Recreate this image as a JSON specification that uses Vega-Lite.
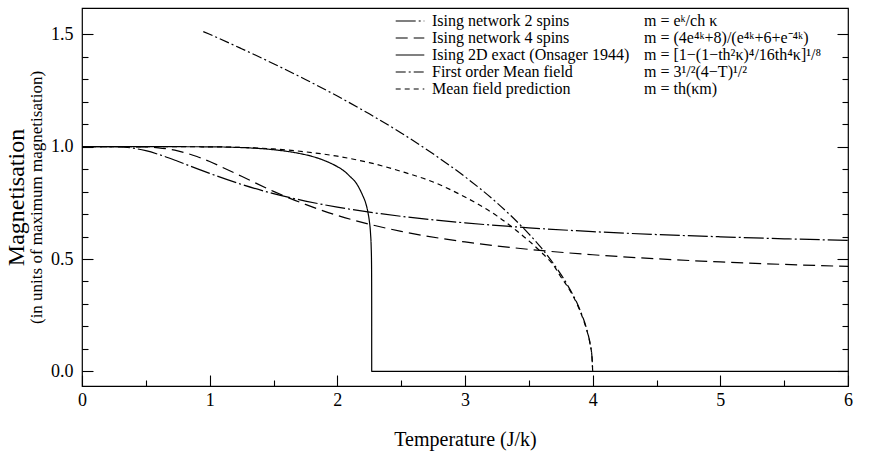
{
  "$schema": "https://vega.github.io/schema/vega-lite/v6.json",
  "width": 766,
  "height": 378,
  "autosize": {"type": "none"},
  "padding": {"left": 82, "top": 8, "right": 38, "bottom": 73},
  "background": "white",
  "config": {
    "font": "Liberation Serif",
    "view": {"stroke": "black", "strokeWidth": 1.2},
    "axis": {
      "grid": false,
      "domain": false,
      "ticks": true,
      "labelFont": "Liberation Serif",
      "titleFont": "Liberation Serif",
      "labelFontSize": 18,
      "labelColor": "black",
      "titleColor": "black",
      "titleFontWeight": "normal",
      "tickColor": "black",
      "tickWidth": 1.1,
      "tickOpacity": 1,
      "labelFlush": false
    },
    "legend": {
      "labelFont": "Liberation Serif",
      "labelFontSize": 16,
      "labelColor": "black",
      "padding": 0,
      "rowPadding": 1,
      "labelLimit": 400
    }
  },
  "datasets": {
    "curves": [
      {"series": "Ising network 2 spins", "T": 0, "m": 1},
      {"series": "Ising network 2 spins", "T": 0.25, "m": 0.9997},
      {"series": "Ising network 2 spins", "T": 0.4, "m": 0.9933},
      {"series": "Ising network 2 spins", "T": 0.5, "m": 0.982},
      {"series": "Ising network 2 spins", "T": 0.6, "m": 0.9655},
      {"series": "Ising network 2 spins", "T": 0.75, "m": 0.935},
      {"series": "Ising network 2 spins", "T": 0.9, "m": 0.902},
      {"series": "Ising network 2 spins", "T": 1, "m": 0.881},
      {"series": "Ising network 2 spins", "T": 1.25, "m": 0.832},
      {"series": "Ising network 2 spins", "T": 1.5, "m": 0.791},
      {"series": "Ising network 2 spins", "T": 1.75, "m": 0.758},
      {"series": "Ising network 2 spins", "T": 2, "m": 0.731},
      {"series": "Ising network 2 spins", "T": 2.5, "m": 0.69},
      {"series": "Ising network 2 spins", "T": 3, "m": 0.661},
      {"series": "Ising network 2 spins", "T": 3.5, "m": 0.639},
      {"series": "Ising network 2 spins", "T": 4, "m": 0.622},
      {"series": "Ising network 2 spins", "T": 4.5, "m": 0.609},
      {"series": "Ising network 2 spins", "T": 5, "m": 0.599},
      {"series": "Ising network 2 spins", "T": 5.5, "m": 0.59},
      {"series": "Ising network 2 spins", "T": 6, "m": 0.583},
      {"series": "Ising network 4 spins", "T": 0, "m": 1},
      {"series": "Ising network 4 spins", "T": 0.25, "m": 1},
      {"series": "Ising network 4 spins", "T": 0.5, "m": 0.9987},
      {"series": "Ising network 4 spins", "T": 0.6, "m": 0.995},
      {"series": "Ising network 4 spins", "T": 0.75, "m": 0.981},
      {"series": "Ising network 4 spins", "T": 0.9, "m": 0.956},
      {"series": "Ising network 4 spins", "T": 1, "m": 0.934},
      {"series": "Ising network 4 spins", "T": 1.1, "m": 0.908},
      {"series": "Ising network 4 spins", "T": 1.25, "m": 0.868},
      {"series": "Ising network 4 spins", "T": 1.5, "m": 0.801},
      {"series": "Ising network 4 spins", "T": 1.75, "m": 0.743},
      {"series": "Ising network 4 spins", "T": 2, "m": 0.694},
      {"series": "Ising network 4 spins", "T": 2.25, "m": 0.655},
      {"series": "Ising network 4 spins", "T": 2.5, "m": 0.623},
      {"series": "Ising network 4 spins", "T": 3, "m": 0.576},
      {"series": "Ising network 4 spins", "T": 3.5, "m": 0.543},
      {"series": "Ising network 4 spins", "T": 4, "m": 0.519},
      {"series": "Ising network 4 spins", "T": 4.5, "m": 0.501},
      {"series": "Ising network 4 spins", "T": 5, "m": 0.487},
      {"series": "Ising network 4 spins", "T": 5.5, "m": 0.476},
      {"series": "Ising network 4 spins", "T": 6, "m": 0.467},
      {"series": "Ising 2D exact (Onsager 1944)", "T": 0, "m": 1},
      {"series": "Ising 2D exact (Onsager 1944)", "T": 0.5, "m": 1},
      {"series": "Ising 2D exact (Onsager 1944)", "T": 1, "m": 0.9993},
      {"series": "Ising 2D exact (Onsager 1944)", "T": 1.2, "m": 0.997},
      {"series": "Ising 2D exact (Onsager 1944)", "T": 1.4, "m": 0.9914},
      {"series": "Ising 2D exact (Onsager 1944)", "T": 1.5, "m": 0.9864},
      {"series": "Ising 2D exact (Onsager 1944)", "T": 1.6, "m": 0.9796},
      {"series": "Ising 2D exact (Onsager 1944)", "T": 1.7, "m": 0.97},
      {"series": "Ising 2D exact (Onsager 1944)", "T": 1.8, "m": 0.957},
      {"series": "Ising 2D exact (Onsager 1944)", "T": 1.9, "m": 0.938},
      {"series": "Ising 2D exact (Onsager 1944)", "T": 2, "m": 0.911},
      {"series": "Ising 2D exact (Onsager 1944)", "T": 2.05, "m": 0.893},
      {"series": "Ising 2D exact (Onsager 1944)", "T": 2.1, "m": 0.867},
      {"series": "Ising 2D exact (Onsager 1944)", "T": 2.15, "m": 0.836},
      {"series": "Ising 2D exact (Onsager 1944)", "T": 2.2, "m": 0.781},
      {"series": "Ising 2D exact (Onsager 1944)", "T": 2.22, "m": 0.753},
      {"series": "Ising 2D exact (Onsager 1944)", "T": 2.24, "m": 0.707},
      {"series": "Ising 2D exact (Onsager 1944)", "T": 2.25, "m": 0.672},
      {"series": "Ising 2D exact (Onsager 1944)", "T": 2.26, "m": 0.614},
      {"series": "Ising 2D exact (Onsager 1944)", "T": 2.265, "m": 0.557},
      {"series": "Ising 2D exact (Onsager 1944)", "T": 2.268, "m": 0.476},
      {"series": "Ising 2D exact (Onsager 1944)", "T": 2.2691, "m": 0.3},
      {"series": "Ising 2D exact (Onsager 1944)", "T": 2.2692, "m": 0},
      {"series": "Ising 2D exact (Onsager 1944)", "T": 6, "m": 0},
      {"series": "First order Mean field", "T": 0.95, "m": 1.512},
      {"series": "First order Mean field", "T": 1, "m": 1.5},
      {"series": "First order Mean field", "T": 1.25, "m": 1.436},
      {"series": "First order Mean field", "T": 1.5, "m": 1.369},
      {"series": "First order Mean field", "T": 1.75, "m": 1.299},
      {"series": "First order Mean field", "T": 2, "m": 1.225},
      {"series": "First order Mean field", "T": 2.25, "m": 1.146},
      {"series": "First order Mean field", "T": 2.5, "m": 1.061},
      {"series": "First order Mean field", "T": 2.75, "m": 0.968},
      {"series": "First order Mean field", "T": 3, "m": 0.866},
      {"series": "First order Mean field", "T": 3.25, "m": 0.75},
      {"series": "First order Mean field", "T": 3.5, "m": 0.612},
      {"series": "First order Mean field", "T": 3.6, "m": 0.548},
      {"series": "First order Mean field", "T": 3.7, "m": 0.474},
      {"series": "First order Mean field", "T": 3.8, "m": 0.387},
      {"series": "First order Mean field", "T": 3.9, "m": 0.274},
      {"series": "First order Mean field", "T": 3.95, "m": 0.194},
      {"series": "First order Mean field", "T": 3.98, "m": 0.122},
      {"series": "First order Mean field", "T": 3.995, "m": 0.061},
      {"series": "First order Mean field", "T": 4, "m": 0},
      {"series": "Mean field prediction", "T": 0, "m": 1},
      {"series": "Mean field prediction", "T": 0.5, "m": 1},
      {"series": "Mean field prediction", "T": 1, "m": 0.9993},
      {"series": "Mean field prediction", "T": 1.25, "m": 0.9966},
      {"series": "Mean field prediction", "T": 1.5, "m": 0.99},
      {"series": "Mean field prediction", "T": 1.75, "m": 0.977},
      {"series": "Mean field prediction", "T": 2, "m": 0.9575},
      {"series": "Mean field prediction", "T": 2.25, "m": 0.929},
      {"series": "Mean field prediction", "T": 2.5, "m": 0.89},
      {"series": "Mean field prediction", "T": 2.75, "m": 0.843},
      {"series": "Mean field prediction", "T": 3, "m": 0.776},
      {"series": "Mean field prediction", "T": 3.1, "m": 0.745},
      {"series": "Mean field prediction", "T": 3.25, "m": 0.692},
      {"series": "Mean field prediction", "T": 3.4, "m": 0.628},
      {"series": "Mean field prediction", "T": 3.5, "m": 0.581},
      {"series": "Mean field prediction", "T": 3.6, "m": 0.529},
      {"series": "Mean field prediction", "T": 3.7, "m": 0.467},
      {"series": "Mean field prediction", "T": 3.75, "m": 0.421},
      {"series": "Mean field prediction", "T": 3.8, "m": 0.38},
      {"series": "Mean field prediction", "T": 3.9, "m": 0.27},
      {"series": "Mean field prediction", "T": 3.95, "m": 0.19},
      {"series": "Mean field prediction", "T": 3.98, "m": 0.122},
      {"series": "Mean field prediction", "T": 3.995, "m": 0.061},
      {"series": "Mean field prediction", "T": 4, "m": 0}
    ],
    "formulas": [
      {"series": "Ising network 2 spins", "formula": "m = eᵏ/ch κ"},
      {"series": "Ising network 4 spins", "formula": "m = (4e⁴ᵏ+8)/(e⁴ᵏ+6+e⁻⁴ᵏ)"},
      {"series": "Ising 2D exact (Onsager 1944)", "formula": "m = [1−(1−th²κ)⁴/16th⁴κ]¹/⁸"},
      {"series": "First order Mean field", "formula": "m = 3¹/²(4−T)¹/²"},
      {"series": "Mean field prediction", "formula": "m = th(κm)"}
    ]
  },
  "data": {"name": "curves"},
  "transform": [
    {"lookup": "series", "from": {"data": {"name": "formulas"}, "key": "series", "fields": ["formula"]}}
  ],
  "encoding": {
    "strokeDash": {
      "field": "series",
      "type": "nominal",
      "scale": {
        "domain": ["Ising network 2 spins", "Ising network 4 spins", "Ising 2D exact (Onsager 1944)", "First order Mean field", "Mean field prediction"],
        "range": [[20, 3, 2, 3], [12, 6], [1, 0], [10, 3, 2, 3], [5, 4]]
      },
      "legend": {
        "title": null,
        "orient": "none",
        "legendX": 320,
        "legendY": 5,
        "symbolType": "M-2.2,0H2.2",
        "symbolSize": 169,
        "symbolStrokeWidth": 1.2,
        "symbolStrokeColor": "black",
        "labelOffset": 14
      }
    },
    "color": {
      "field": "formula",
      "type": "nominal",
      "scale": {
        "domain": ["m = eᵏ/ch κ", "m = (4e⁴ᵏ+8)/(e⁴ᵏ+6+e⁻⁴ᵏ)", "m = [1−(1−th²κ)⁴/16th⁴κ]¹/⁸", "m = 3¹/²(4−T)¹/²", "m = th(κm)"],
        "range": ["black", "black", "black", "black", "black"]
      },
      "legend": {
        "title": null,
        "orient": "none",
        "legendX": 546,
        "legendY": 5,
        "symbolSize": 0,
        "symbolOpacity": 0,
        "symbolStrokeWidth": 0,
        "labelOffset": 0
      }
    }
  },
  "layer": [
    {
      "transform": [{"filter": {"field": "series", "equal": "Ising 2D exact (Onsager 1944)"}}],
      "mark": {"type": "line", "strokeWidth": 1.2, "interpolate": "monotone"},
      "encoding": {
        "x": {
          "field": "T", "type": "quantitative",
          "scale": {"domain": [0, 6], "nice": false, "zero": false},
          "axis": {
            "orient": "bottom",
            "values": [0, 1, 2, 3, 4, 5, 6],
            "offset": -11,
            "tickSize": 11,
            "format": "d",
            "labelPadding": 5,
            "title": "Temperature (J/k)",
            "titleFontSize": 20,
            "titlePadding": 20
          }
        },
        "y": {
          "field": "m", "type": "quantitative",
          "scale": {"domain": [-0.065, 1.617], "nice": false, "zero": false},
          "axis": {
            "orient": "left",
            "values": [0, 0.5, 1, 1.5],
            "offset": -11,
            "tickSize": 11,
            "format": ".1f",
            "labelPadding": 9,
            "title": "Magnetisation",
            "titleFontSize": 24,
            "titlePadding": 22
          }
        }
      }
    },
    {
      "transform": [{"filter": {"field": "series", "equal": "Ising network 2 spins"}}],
      "mark": {"type": "line", "strokeWidth": 1.2, "interpolate": "monotone"},
      "encoding": {
        "x": {
          "field": "T", "type": "quantitative",
          "scale": {"domain": [0, 6], "nice": false, "zero": false},
          "axis": null
        },
        "y": {
          "field": "m", "type": "quantitative",
          "scale": {"domain": [-0.065, 1.617], "nice": false, "zero": false},
          "axis": {
            "orient": "right",
            "values": [0, 0.5, 1, 1.5],
            "offset": -11,
            "tickSize": 11,
            "labels": false,
            "title": null
          }
        }
      }
    },
    {
      "transform": [{"filter": {"field": "series", "equal": "Ising network 4 spins"}}],
      "mark": {"type": "line", "strokeWidth": 1.2, "interpolate": "monotone"},
      "encoding": {
        "x": {
          "field": "T", "type": "quantitative",
          "scale": {"domain": [0, 6], "nice": false, "zero": false},
          "axis": {
            "orient": "bottom",
            "values": [0.5, 1.5, 2.5, 3.5, 4.5, 5.5],
            "offset": -6,
            "tickSize": 6,
            "labels": false,
            "title": null
          }
        },
        "y": {
          "field": "m", "type": "quantitative",
          "scale": {"domain": [-0.065, 1.617], "nice": false, "zero": false},
          "axis": {
            "orient": "left",
            "values": [0.1, 0.2, 0.3, 0.4, 0.6, 0.7, 0.8, 0.9, 1.1, 1.2, 1.3, 1.4],
            "offset": -6,
            "tickSize": 6,
            "labels": false,
            "title": "(in units of maximum magnetisation)",
            "titleFontSize": 17,
            "titlePadding": 36
          }
        }
      }
    },
    {
      "transform": [{"filter": {"field": "series", "oneOf": ["First order Mean field", "Mean field prediction"]}}],
      "mark": {"type": "line", "strokeWidth": 1.2, "interpolate": "monotone"},
      "encoding": {
        "x": {
          "field": "T", "type": "quantitative",
          "scale": {"domain": [0, 6], "nice": false, "zero": false},
          "axis": null
        },
        "y": {
          "field": "m", "type": "quantitative",
          "scale": {"domain": [-0.065, 1.617], "nice": false, "zero": false},
          "axis": {
            "orient": "right",
            "values": [0.1, 0.2, 0.3, 0.4, 0.6, 0.7, 0.8, 0.9, 1.1, 1.2, 1.3, 1.4],
            "offset": -6,
            "tickSize": 6,
            "labels": false,
            "title": null
          }
        }
      }
    }
  ],
  "resolve": {"axis": {"x": "independent", "y": "independent"}}
}
